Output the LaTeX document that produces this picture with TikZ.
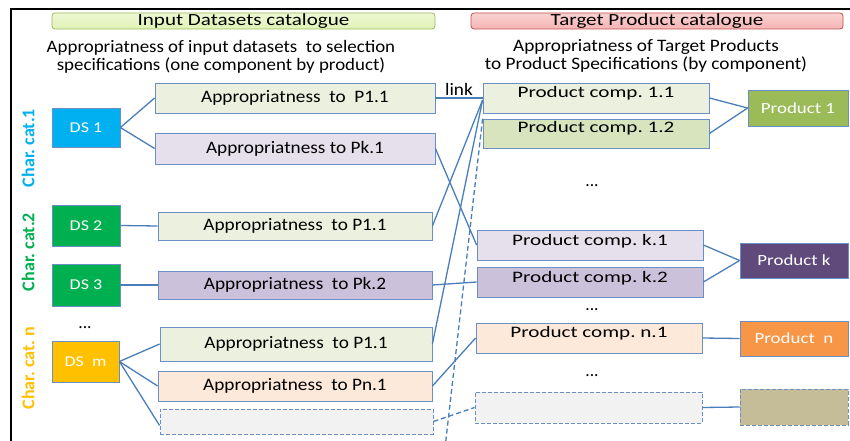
\documentclass[tikz,border=0pt]{standalone}
\usepackage{fontspec}
\usepackage{graphicx}
\setmainfont{Carlito}
\usetikzlibrary{calc}
\frenchspacing
\newcommand\sx[2]{\scalebox{#1}[1]{#2}}
\definecolor{lineb}{HTML}{4A7EBB}
\definecolor{boxb}{HTML}{6A8FC7}
\definecolor{cds1}{HTML}{00B0F0}
\definecolor{cds2}{HTML}{00B050}
\definecolor{cdsm}{HTML}{FFC000}
\definecolor{lgreen}{HTML}{EBF1DE}
\definecolor{mgreen}{HTML}{D7E4BD}
\definecolor{llav}{HTML}{E5E0EC}
\definecolor{mlav}{HTML}{CCC1DA}
\definecolor{lpeach}{HTML}{FDE9D9}
\definecolor{lgray}{HTML}{F2F2F2}
\definecolor{cp1}{HTML}{9BBB59}
\definecolor{cpk}{HTML}{604A7B}
\definecolor{cpn}{HTML}{F79646}
\definecolor{cpx}{HTML}{C4BD97}
\definecolor{hdrg}{HTML}{E2F2B6}
\definecolor{hdrgb}{HTML}{9BBB59}
\definecolor{hdrr}{HTML}{F6B4B4}
\definecolor{hdrrb}{HTML}{C0504D}
\begin{document}
\frenchspacing
\begin{tikzpicture}[x=1pt,y=-1pt,
  box/.style={draw=boxb, line width=0.8pt, rectangle, inner sep=0pt, font=\fontsize{17.5}{17.5}\selectfont},
  dsbox/.style={box, text=white, minimum width=68pt, font=\fontsize{15}{15}\selectfont},
  prodbox/.style={box, text=white, minimum width=108pt, minimum height=35pt, font=\fontsize{15.5}{15.5}\selectfont},
  hdr/.style={rectangle, rounded corners=3pt, line width=0.8pt, inner sep=0pt, minimum height=16pt, font=\fontsize{17}{17}\selectfont},
  txt/.style={inner sep=0pt, font=\fontsize{17.5}{18}\selectfont, align=center},
  cat/.style={inner sep=0pt, rotate=90, font=\fontsize{18}{18}\selectfont\bfseries},
  clab/.style={font=\fontsize{16}{16}\selectfont},
  conn/.style={draw=lineb, line width=1.3pt},
  dconn/.style={conn, dashed, dash pattern=on 5pt off 3pt},
  dbox/.style={box, dashed, dash pattern=on 4pt off 2pt}
]
\useasboundingbox (0,0) rectangle (850,441);
\fill[white] (0,0) rectangle (850,441);
% frame
\draw[black, line width=2pt] (11,441) -- (11,9) -- (850,9);

% headers
\node[hdr, draw=hdrgb, top color=hdrg!60, bottom color=hdrg, minimum width=383pt] (hL) at (243.5,21) {\sx{1.24}{Input Datasets catalogue}};
\node[hdr, draw=hdrrb, top color=hdrr!60, bottom color=hdrr, minimum width=372pt] (hR) at (657,21) {\sx{1.24}{Target Product catalogue}};

\node[txt] (subL) at (221,57) {\sx{1.08}{Appropriatness of input datasets\ \ to selection}\\\sx{1.08}{specifications (one component by product)}};
\node[txt] (subR) at (646,56) {\sx{1.1}{Appropriatness of Target Products}\\\sx{1.1}{to Product Specifications (by component)}};

% category labels
\node[cat, text=cds1] (cat1) at (28,148) {Char. cat.1};
\node[cat, text=cds2] (cat2) at (28,252) {Char. cat.2};
\node[cat, text=cdsm] (catn) at (28,368) {Char. cat. n};

% datasets
\node[dsbox, fill=cds1, minimum height=39pt] (DS1) at (86,127.5) {\sx{1.2}{DS 1}};
\node[dsbox, fill=cds2, minimum height=41pt] (DS2) at (86,225.5) {\sx{1.2}{DS 2}};
\node[dsbox, fill=cds2, minimum height=42pt] (DS3) at (86,285) {\sx{1.2}{DS 3}};
\node[txt] (dotsL) at (85,328) {...};
\node[dsbox, fill=cdsm, minimum height=41pt, minimum width=67pt] (DSm) at (85.5,361.5) {\sx{1.2}{DS\ \ m}};

% appropriateness boxes
\node[box, fill=lgreen, minimum width=280pt, minimum height=30pt] (A1) at (295,98) {\sx{1.1}{Appropriatness\ \ to\ \ P1.1}};
\node[box, fill=llav, minimum width=280pt, minimum height=31pt] (A2) at (295,148.5) {\sx{1.1}{Appropriatness to Pk.1}};
\node[box, fill=lgreen, minimum width=274pt, minimum height=28pt] (A3) at (295,226) {\sx{1.1}{Appropriatness\ \ to P1.1}};
\node[box, fill=mlav, minimum width=274pt, minimum height=28pt] (A4) at (295,285) {\sx{1.1}{Appropriatness\ \ to Pk.2}};
\node[box, fill=lgreen, minimum width=272pt, minimum height=34pt] (A5) at (296,344) {\sx{1.1}{Appropriatness\ \ to P1.1}};
\node[box, fill=lpeach, minimum width=274pt, minimum height=30pt] (A6) at (295,386) {\sx{1.1}{Appropriatness\ \ to Pn.1}};
\node[dbox, fill=lgray, minimum width=273pt, minimum height=25pt] (A7) at (296.5,421.5) {};

% product components
\node[box, fill=lgreen, minimum width=226pt, minimum height=30pt, label={[yshift=5pt, clab]center:\sx{1.32}{Product comp. 1.1}}] (C11) at (596,98) {};
\node[box, fill=mgreen, minimum width=226pt, minimum height=29pt, label={[yshift=5pt, clab]center:\sx{1.32}{Product comp. 1.2}}] (C12) at (596,133.5) {};
\node[txt] (dots1) at (592,186) {...};
\node[box, fill=llav, minimum width=226pt, minimum height=30pt, label={[yshift=4pt, clab]center:\sx{1.32}{Product comp. k.1}}] (Ck1) at (590,245) {};
\node[box, fill=mlav, minimum width=226pt, minimum height=30pt, label={[yshift=4pt, clab]center:\sx{1.32}{Product comp. k.2}}] (Ck2) at (590,282) {};
\node[txt] (dots2) at (592,310) {...};
\node[box, fill=lpeach, minimum width=226pt, minimum height=30pt, label={[yshift=5pt, clab]center:\sx{1.32}{Product comp. n.1}}] (Cn1) at (589,338) {};
\node[txt] (dots3) at (592,376) {...};
\node[dbox, fill=lgray, minimum width=227pt, minimum height=31pt] (Cx) at (588.5,407.5) {};

% products
\node[prodbox, fill=cp1, minimum width=100pt, minimum height=36pt] (P1) at (798,108) {\sx{1.22}{Product 1}};
\node[prodbox, fill=cpk] (Pk) at (794,260.5) {\sx{1.22}{Product k}};
\node[prodbox, fill=cpn] (Pn) at (794,338.5) {\sx{1.22}{Product\ \ n}};
\node[dbox, fill=cpx, minimum width=108pt, minimum height=36pt] (Px) at (794,407) {};

% connectors left
\draw[conn] (DS1.east) -- (A1.west);
\draw[conn] (DS1.east) -- (A2.west);
\draw[conn] (DS2.east) -- (A3.west);
\draw[conn] (DS3.east) -- (A4.west);
\draw[conn] (DSm.east) -- (A5.west);
\draw[conn] (DSm.east) -- (A6.west);
\draw[conn] (DSm.east) -- ([yshift=-4pt]A7.west);

% connectors middle
\draw[conn] (A1.east) -- node[above=2pt, txt] (link) {\sx{1.1}{link}} (C11.west);
\draw[conn] (A2.east) -- (Ck1.west);
\draw[conn] (A3.east) -- ([yshift=-2pt]C11.west);
\draw[conn] (A4.east) -- (Ck2.west);
\draw[conn] (A5.east) -- ([yshift=-2pt]C11.west);
\draw[conn] (A6.east) -- (Cn1.west);
\draw[dconn] (A7.east) -- (Cx.west);
\coordinate (dend) at (445,448);
\draw[dconn] (C12.north west) -- (dend);

% connectors right
\draw[conn] (C11.east) -- (P1.west);
\draw[conn] (C12.east) -- (P1.west);
\draw[conn] (Ck1.east) -- (Pk.west);
\draw[conn] (Ck2.east) -- (Pk.west);
\draw[conn] (Cn1.east) -- (Pn.west);
\draw[conn] (Cx.east) -- (Px.west);
\end{tikzpicture}
\end{document}
